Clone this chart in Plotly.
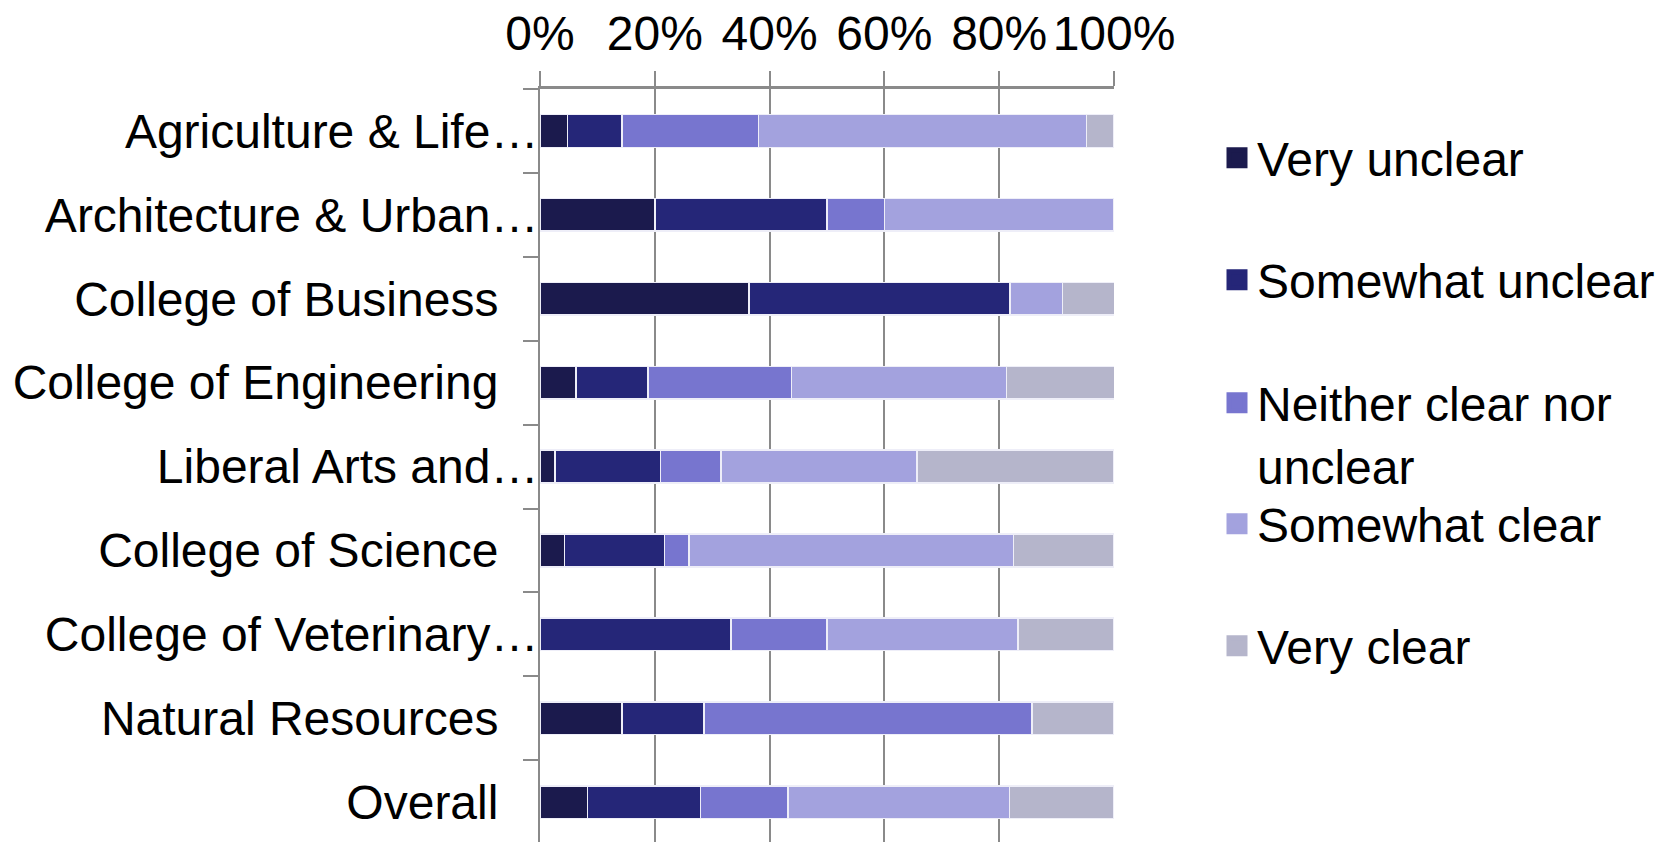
import plotly.graph_objects as go

categories = ["Agriculture & Life…", "Architecture & Urban…", "College of Business",
              "College of Engineering", "Liberal Arts and…", "College of Science",
              "College of Veterinary…", "Natural Resources", "Overall"]
series_names = ["Very unclear", "Somewhat unclear", "Neither clear nor unclear",
                "Somewhat clear", "Very clear"]
very_unclear = [4.8, 20.0, 36.4, 6.3, 2.6, 4.3, 0.0, 14.3, 8.3]
somewhat_unclear = [9.5, 30.0, 45.5, 12.5, 18.4, 17.4, 33.3, 14.3, 19.7]
neither = [23.8, 10.0, 0.0, 25.0, 10.5, 4.3, 16.7, 57.1, 15.2]
somewhat_clear = [57.1, 40.0, 9.1, 37.5, 34.2, 56.5, 33.3, 0.0, 38.6]
very_clear = [4.8, 0.0, 9.1, 18.8, 34.2, 17.4, 16.7, 14.3, 18.2]
x_ticks = [0, 20, 40, 60, 80, 100]
x_tick_labels = ["0%", "20%", "40%", "60%", "80%", "100%"]

colors = ["#1b1a4d", "#252678", "#7775cf", "#a3a2de", "#b5b5cb"]
series = [very_unclear, somewhat_unclear, neither, somewhat_clear, very_clear]

# labels: truncated ones reach the axis, full ones stop a bit short (as in the original)
labels = [c if c.endswith("…") else c + "\u00a0" * 3 for c in categories]

FONT = "Arial, Liberation Sans, sans-serif"
FS = 48
GRID = "#8a8a8a"

fig = go.Figure()
for name, vals, col in zip(series_names, series, colors):
    fig.add_trace(go.Bar(
        y=labels, x=vals, orientation="h", name=name, showlegend=False,
        marker=dict(color=col, line=dict(color="#eeeef8", width=1.5)),
    ))

# legend entries (one legend each, positioned like the original)
legend_names = ["legend", "legend2", "legend3", "legend4", "legend5"]
legend_text = ["Very unclear", "Somewhat unclear", "Neither clear nor<br>unclear",
               "Somewhat clear", "Very clear"]
legend_yc = [159, 281, 404, 525, 647]
for txt, col, lg in zip(legend_text, colors, legend_names):
    fig.add_trace(go.Scatter(
        x=[None], y=[None], mode="markers", name=txt, legend=lg, showlegend=True,
        marker=dict(symbol="square", size=16, color=col, line=dict(color=col, width=5)),
    ))

H = 842
leg_common = dict(xref="container", yref="container", x=1217 / 1671, xanchor="left",
                  bgcolor="rgba(0,0,0,0)", borderwidth=0,
                  font=dict(family=FONT, size=FS, color="black"), valign="top",
                  itemclick=False, itemdoubleclick=False)
layout_legends = {}
for lg, yc in zip(legend_names, legend_yc):
    d = dict(leg_common)
    d.update(y=1 - (yc - 39) / H, yanchor="top")
    layout_legends[lg] = d

fig.update_layout(
    width=1671, height=842,
    margin=dict(l=540, r=557, t=89, b=0, autoexpand=False),
    barmode="stack", bargap=0.61,
    plot_bgcolor="white", paper_bgcolor="white",
    font=dict(family=FONT, size=FS, color="black"),
    xaxis=dict(
        side="top", range=[0, 100], tickmode="array", tickvals=x_ticks,
        ticktext=x_tick_labels, tickangle=0, showgrid=True, gridcolor=GRID, gridwidth=1.5,
        showline=True, linecolor=GRID, linewidth=2.5, ticks="outside", ticklen=15,
        tickcolor=GRID, tickwidth=1.5, zeroline=False, automargin=False,
        ticklabelstandoff=2,
        tickfont=dict(family=FONT, size=FS, color="black"),
    ),
    yaxis=dict(
        type="category", range=[8.475, -0.5], tickson="boundaries", ticks="outside",
        ticklen=15, tickcolor=GRID, tickwidth=1.5, showgrid=False, showline=True,
        linecolor=GRID, linewidth=2, automargin=False, ticklabelstandoff=-10,
        tickfont=dict(family=FONT, size=FS, color="black"),
    ),
    **layout_legends,
)

fig.write_html("out.html", config={"displayModeBar": False},
               post_script="document.body.style.margin='0';")
